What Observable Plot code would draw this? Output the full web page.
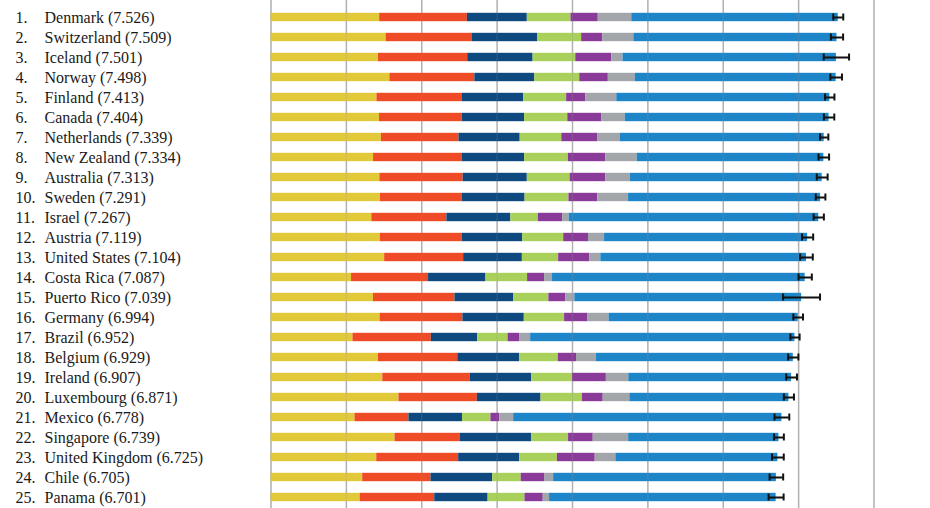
<!DOCTYPE html>
<html>
<head>
<meta charset="utf-8">
<script src="https://cdn.jsdelivr.net/npm/d3@7"></script>
<script src="https://cdn.jsdelivr.net/npm/@observablehq/plot@0.6"></script>
<style>
  html, body { margin: 0; padding: 0; background: #fff; }
  #chart svg { display: block; }
</style>
</head>
<body>
<div id="chart"></div>
<script>
const countries = ["Denmark","Switzerland","Iceland","Norway","Finland","Canada","Netherlands","New Zealand","Australia","Sweden","Israel","Austria","United States","Costa Rica","Puerto Rico","Germany","Brazil","Belgium","Ireland","Luxembourg","Mexico","Singapore","United Kingdom","Chile","Panama"];
const scores = [7.526,7.509,7.501,7.498,7.413,7.404,7.339,7.334,7.313,7.291,7.267,7.119,7.104,7.087,7.039,6.994,6.952,6.929,6.907,6.871,6.778,6.739,6.725,6.705,6.701];
const lowerCI = [7.46,7.428,7.333,7.421,7.351,7.335,7.284,7.264,7.241,7.227,7.199,7.045,7.02,6.999,6.794,6.93,6.891,6.861,6.836,6.804,6.68,6.674,6.647,6.615,6.601];
const upperCI = [7.592,7.59,7.669,7.575,7.475,7.473,7.394,7.404,7.385,7.355,7.335,7.193,7.188,7.175,7.284,7.058,7.013,6.997,6.978,6.938,6.876,6.804,6.803,6.795,6.801];
const gdp = [1.44178,1.52733,1.42666,1.57744,1.40598,1.44015,1.46468,1.36066,1.44443,1.45181,1.33766,1.45038,1.50796,1.06879,1.35943,1.44787,1.08754,1.42539,1.48341,1.69752,1.11508,1.64555,1.40283,1.2167,1.18306];
const social = [1.16374,1.14524,1.18326,1.1269,1.13464,1.0961,1.02912,1.17278,1.10476,1.08764,0.99537,1.08383,1.04782,1.02152,1.08113,1.09774,1.03938,1.05249,1.16157,1.03999,0.7146,0.86758,1.08672,0.90587,0.98912];
const health = [0.79504,0.86303,0.86733,0.79579,0.81091,0.8276,0.81231,0.83096,0.8512,0.83121,0.84917,0.80565,0.779,0.76146,0.77758,0.81487,0.61415,0.81959,0.81455,0.84542,0.71143,0.94719,0.80991,0.81883,0.70835];
const freedom = [0.57941,0.58557,0.56624,0.59609,0.57104,0.5737,0.55211,0.58147,0.56837,0.58218,0.36432,0.54355,0.48163,0.55225,0.46823,0.53466,0.40425,0.51354,0.54008,0.5487,0.37709,0.4877,0.50036,0.37789,0.48927];
const generosity = [0.36171,0.28083,0.47678,0.37895,0.25492,0.44834,0.47416,0.49401,0.47407,0.38254,0.32288,0.32865,0.41077,0.22553,0.22202,0.30452,0.15776,0.2424,0.44963,0.27571,0.11735,0.32706,0.50156,0.31595,0.2418];
const corruption = [0.44453,0.41203,0.14975,0.35776,0.41004,0.31329,0.29927,0.41904,0.32331,0.40867,0.08728,0.21348,0.14868,0.10547,0.12275,0.28551,0.14166,0.26248,0.29754,0.35329,0.18355,0.46987,0.27399,0.11451,0.08423];
const dystopia = [2.73939,2.69463,2.83137,2.66465,2.82596,2.70485,2.70749,2.47553,2.5465,2.54734,3.31029,2.69343,2.72782,3.35168,3.00877,2.50931,3.5067,2.61355,2.15988,2.11055,3.55906,1.99375,2.14999,2.95505,3.00559];
const factorNames = ["GDP per capita","Social support","Healthy life expectancy","Freedom","Generosity","Perceptions of corruption","Dystopia + residual"];
const factorColors = ["#E1C93A","#EE4B26","#0E4A80","#A9D05B","#8A3A98","#A2A5AA","#1E86C8"];
const xTicks = [0,1,2,3,4,5,6,7,8];

const factorSeries = [gdp, social, health, freedom, generosity, corruption, dystopia];
const segments = [];
countries.forEach((c, i) => {
  factorSeries.forEach((s, k) => segments.push({country: c, factor: factorNames[k], value: s[i]}));
});
const rows = countries.map((c, i) => ({
  country: c, rank: (i + 1) + ".", label: `${c} (${scores[i].toFixed(3)})`,
  lo: lowerCI[i], hi: upperCI[i]
}));

const chart = Plot.plot({
  width: 930,
  height: 508,
  marginTop: 0, marginBottom: 0, marginLeft: 0, marginRight: 0,
  x: {domain: [0, 8], range: [270.5, 873.5], axis: null},
  y: {domain: countries, range: [6, 507.5], padding: 0, axis: null},
  color: {domain: factorNames, range: factorColors},
  style: {fontFamily: "Liberation Serif", background: "#fff"},
  marks: [
    Plot.ruleX(xTicks, {stroke: "#b9b9b9", strokeWidth: 1.5}),
    Plot.barX(segments, {x: "value", y: "country", fill: "factor", insetTop: 5.8, insetBottom: 5.8, order: null}),
    Plot.ruleX(xTicks, {stroke: "#999", strokeWidth: 1, strokeOpacity: 0.25}),
    Plot.ruleY(rows, {y: "country", x1: "lo", x2: "hi", stroke: "#111", strokeWidth: 2}),
    Plot.tickX(rows, {x: "lo", y: "country", stroke: "#111", strokeWidth: 2, insetTop: 6.5, insetBottom: 6.5}),
    Plot.tickX(rows, {x: "hi", y: "country", stroke: "#111", strokeWidth: 2, insetTop: 6.5, insetBottom: 6.5}),
    Plot.text(rows, {y: "country", text: "rank", frameAnchor: "left", dx: 15, textAnchor: "start", fontSize: 16, fill: "#1a1a1a"}),
    Plot.text(rows, {y: "country", text: "label", frameAnchor: "left", dx: 44, textAnchor: "start", fontSize: 16, fill: "#1a1a1a"})
  ]
});
document.getElementById("chart").appendChild(chart);
</script>
</body>
</html>
